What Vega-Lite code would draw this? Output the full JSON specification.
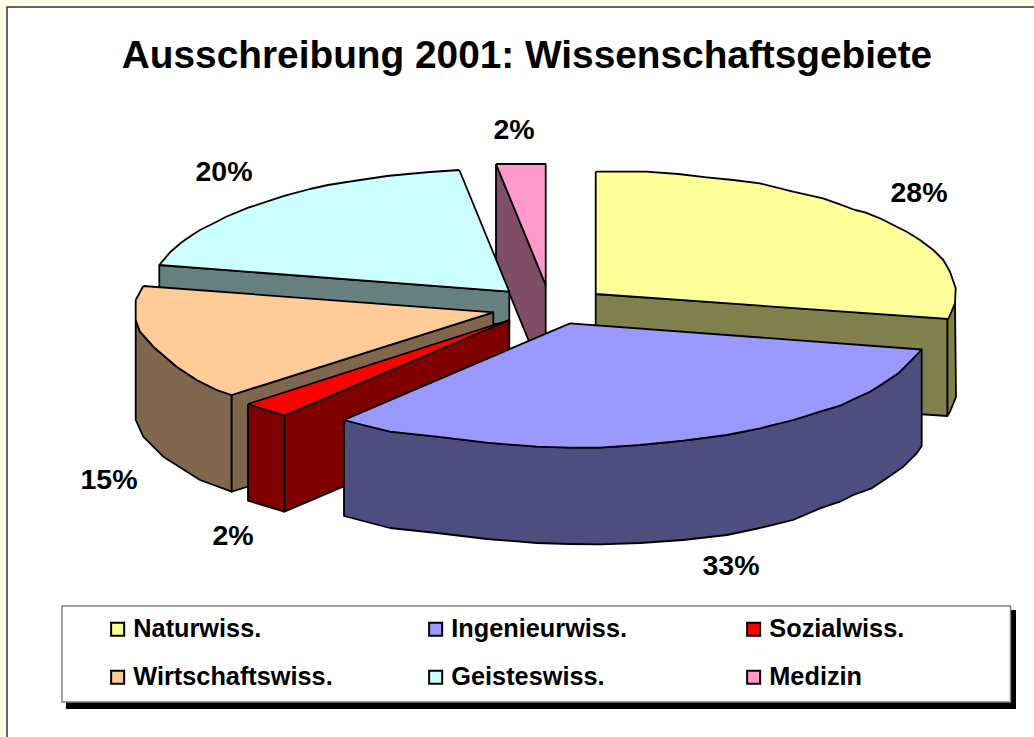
{
"$schema":"https://vega.github.io/schema/vega-lite/v6.json",
"width":1034,"height":737,"padding":0,"autosize":{"type":"none"},
"background":"#FFFFE6",
"title":{"text":"Ausschreibung 2001: Wissenschaftsgebiete","orient":"top","anchor":"middle","offset":-76,"dx":10,"font":"Liberation Sans","fontSize":38.8,"fontWeight":"bold","color":"#000000"},
"config":{"view":{"stroke":null}},
"datasets":{
"panels":[
{"teil":"Rahmen","x":7,"x2":1060,"y":7,"y2":760},
{"teil":"Legendenschatten","x":66,"x2":1016,"y":610,"y2":709},
{"teil":"Legende","x":62,"x2":1010.5,"y":606,"y2":702}
],
"labels":[
{"fach":"Naturwiss.","anteil":0.28,"x":919,"y":193},
{"fach":"Ingenieurwiss.","anteil":0.33,"x":731,"y":566},
{"fach":"Sozialwiss.","anteil":0.02,"x":233,"y":536},
{"fach":"Wirtschaftswiss.","anteil":0.15,"x":109,"y":480},
{"fach":"Geisteswiss.","anteil":0.20,"x":224,"y":172},
{"fach":"Medizin","anteil":0.02,"x":514,"y":130}
],
"faces":[
{"face":"Medizin Seite","n":1,"x":496,"y":164},{"face":"Medizin Seite","n":2,"x":545.7,"y":285},{"face":"Medizin Seite","n":3,"x":545.7,"y":382},{"face":"Medizin Seite","n":4,"x":496,"y":261},{"face":"Medizin Seite","n":5,"x":496,"y":164},
{"face":"Medizin","n":1,"x":496,"y":164},{"face":"Medizin","n":2,"x":545.7,"y":164},{"face":"Medizin","n":3,"x":545.7,"y":285},{"face":"Medizin","n":4,"x":496,"y":164},
{"face":"Geisteswiss. Seite","n":1,"x":159.3,"y":265},{"face":"Geisteswiss. Seite","n":2,"x":509.3,"y":291.7},{"face":"Geisteswiss. Seite","n":3,"x":509.3,"y":325},{"face":"Geisteswiss. Seite","n":4,"x":159.3,"y":300},{"face":"Geisteswiss. Seite","n":5,"x":159.3,"y":265},
{"face":"Geisteswiss.","n":1,"x":459.3,"y":170},{"face":"Geisteswiss.","n":2,"x":509.3,"y":291.7},{"face":"Geisteswiss.","n":3,"x":159.3,"y":265},{"face":"Geisteswiss.","n":4,"x":170,"y":252.3},{"face":"Geisteswiss.","n":5,"x":181.7,"y":242.3},{"face":"Geisteswiss.","n":6,"x":193.3,"y":234.3},{"face":"Geisteswiss.","n":7,"x":200,"y":230},{"face":"Geisteswiss.","n":8,"x":211.7,"y":224.3},{"face":"Geisteswiss.","n":9,"x":226.7,"y":216.5},{"face":"Geisteswiss.","n":10,"x":248.3,"y":207.7},{"face":"Geisteswiss.","n":11,"x":266.7,"y":201.7},{"face":"Geisteswiss.","n":12,"x":285,"y":195.7},{"face":"Geisteswiss.","n":13,"x":310,"y":189},{"face":"Geisteswiss.","n":14,"x":328,"y":185},{"face":"Geisteswiss.","n":15,"x":347,"y":182},{"face":"Geisteswiss.","n":16,"x":367,"y":179},{"face":"Geisteswiss.","n":17,"x":387,"y":176},{"face":"Geisteswiss.","n":18,"x":408,"y":174},{"face":"Geisteswiss.","n":19,"x":430,"y":172},{"face":"Geisteswiss.","n":20,"x":459.3,"y":170},
{"face":"Naturwiss. Rundung","n":1,"x":947.3,"y":318.3},{"face":"Naturwiss. Rundung","n":2,"x":955,"y":303.3},{"face":"Naturwiss. Rundung","n":3,"x":956,"y":397},{"face":"Naturwiss. Rundung","n":4,"x":950,"y":411.7},{"face":"Naturwiss. Rundung","n":5,"x":947.3,"y":416},{"face":"Naturwiss. Rundung","n":6,"x":947.3,"y":318.3},
{"face":"Naturwiss. Seite","n":1,"x":595.7,"y":294},{"face":"Naturwiss. Seite","n":2,"x":947.3,"y":318.3},{"face":"Naturwiss. Seite","n":3,"x":947.3,"y":416},{"face":"Naturwiss. Seite","n":4,"x":595.7,"y":392},{"face":"Naturwiss. Seite","n":5,"x":595.7,"y":294},
{"face":"Naturwiss.","n":1,"x":595.7,"y":171.7},{"face":"Naturwiss.","n":2,"x":646,"y":171.7},{"face":"Naturwiss.","n":3,"x":678.3,"y":174},{"face":"Naturwiss.","n":4,"x":706.7,"y":177.3},{"face":"Naturwiss.","n":5,"x":733,"y":180},{"face":"Naturwiss.","n":6,"x":760,"y":183.3},{"face":"Naturwiss.","n":7,"x":793,"y":191.7},{"face":"Naturwiss.","n":8,"x":823,"y":198.3},{"face":"Naturwiss.","n":9,"x":840,"y":204.3},{"face":"Naturwiss.","n":10,"x":855,"y":210},{"face":"Naturwiss.","n":11,"x":865,"y":212.3},{"face":"Naturwiss.","n":12,"x":880,"y":218.3},{"face":"Naturwiss.","n":13,"x":893.3,"y":225},{"face":"Naturwiss.","n":14,"x":906.7,"y":231.7},{"face":"Naturwiss.","n":15,"x":920,"y":240},{"face":"Naturwiss.","n":16,"x":933.3,"y":250},{"face":"Naturwiss.","n":17,"x":943.3,"y":260},{"face":"Naturwiss.","n":18,"x":950,"y":271.7},{"face":"Naturwiss.","n":19,"x":955.7,"y":288.3},{"face":"Naturwiss.","n":20,"x":955,"y":303.3},{"face":"Naturwiss.","n":21,"x":948.3,"y":319},{"face":"Naturwiss.","n":22,"x":595.7,"y":294},{"face":"Naturwiss.","n":23,"x":595.7,"y":171.7},
{"face":"Wirtschaftswiss. Rundung","n":1,"x":231.7,"y":395},{"face":"Wirtschaftswiss. Rundung","n":2,"x":216.7,"y":390},{"face":"Wirtschaftswiss. Rundung","n":3,"x":196.7,"y":380},{"face":"Wirtschaftswiss. Rundung","n":4,"x":176.7,"y":366.7},{"face":"Wirtschaftswiss. Rundung","n":5,"x":153.3,"y":346.7},{"face":"Wirtschaftswiss. Rundung","n":6,"x":140,"y":331.7},{"face":"Wirtschaftswiss. Rundung","n":7,"x":135.7,"y":320},{"face":"Wirtschaftswiss. Rundung","n":8,"x":135.7,"y":420},{"face":"Wirtschaftswiss. Rundung","n":9,"x":143.3,"y":436.7},{"face":"Wirtschaftswiss. Rundung","n":10,"x":163.3,"y":456.7},{"face":"Wirtschaftswiss. Rundung","n":11,"x":200,"y":480},{"face":"Wirtschaftswiss. Rundung","n":12,"x":231.7,"y":491.7},{"face":"Wirtschaftswiss. Rundung","n":13,"x":231.7,"y":395},
{"face":"Wirtschaftswiss. Seite","n":1,"x":231.7,"y":395},{"face":"Wirtschaftswiss. Seite","n":2,"x":493.3,"y":312.3},{"face":"Wirtschaftswiss. Seite","n":3,"x":493.3,"y":410},{"face":"Wirtschaftswiss. Seite","n":4,"x":231.7,"y":491.7},{"face":"Wirtschaftswiss. Seite","n":5,"x":231.7,"y":395},
{"face":"Wirtschaftswiss.","n":1,"x":143.3,"y":286},{"face":"Wirtschaftswiss.","n":2,"x":493.3,"y":312.3},{"face":"Wirtschaftswiss.","n":3,"x":231.7,"y":395},{"face":"Wirtschaftswiss.","n":4,"x":216.7,"y":390},{"face":"Wirtschaftswiss.","n":5,"x":196.7,"y":380},{"face":"Wirtschaftswiss.","n":6,"x":176.7,"y":366.7},{"face":"Wirtschaftswiss.","n":7,"x":153.3,"y":346.7},{"face":"Wirtschaftswiss.","n":8,"x":140,"y":331.7},{"face":"Wirtschaftswiss.","n":9,"x":135.7,"y":320},{"face":"Wirtschaftswiss.","n":10,"x":135.7,"y":300},{"face":"Wirtschaftswiss.","n":11,"x":143.3,"y":286},
{"face":"Sozialwiss. Seite","n":1,"x":509.3,"y":320},{"face":"Sozialwiss. Seite","n":2,"x":284.3,"y":415.7},{"face":"Sozialwiss. Seite","n":3,"x":284.3,"y":511.7},{"face":"Sozialwiss. Seite","n":4,"x":509.3,"y":416},{"face":"Sozialwiss. Seite","n":5,"x":509.3,"y":320},
{"face":"Sozialwiss. Stirn","n":1,"x":248,"y":404},{"face":"Sozialwiss. Stirn","n":2,"x":284.3,"y":415.7},{"face":"Sozialwiss. Stirn","n":3,"x":284.3,"y":511.7},{"face":"Sozialwiss. Stirn","n":4,"x":248,"y":500.7},{"face":"Sozialwiss. Stirn","n":5,"x":248,"y":404},
{"face":"Sozialwiss.","n":1,"x":248,"y":404},{"face":"Sozialwiss.","n":2,"x":284.3,"y":415.7},{"face":"Sozialwiss.","n":3,"x":509.3,"y":320},{"face":"Sozialwiss.","n":4,"x":248,"y":404},
{"face":"Ingenieurwiss. Seite","n":1,"x":921.7,"y":349.5},{"face":"Ingenieurwiss. Seite","n":2,"x":910,"y":361.7},{"face":"Ingenieurwiss. Seite","n":3,"x":898.3,"y":373.3},{"face":"Ingenieurwiss. Seite","n":4,"x":883.3,"y":383.3},{"face":"Ingenieurwiss. Seite","n":5,"x":870,"y":391.7},{"face":"Ingenieurwiss. Seite","n":6,"x":853.3,"y":399.3},{"face":"Ingenieurwiss. Seite","n":7,"x":840,"y":405.7},{"face":"Ingenieurwiss. Seite","n":8,"x":820,"y":411.7},{"face":"Ingenieurwiss. Seite","n":9,"x":793.3,"y":420},{"face":"Ingenieurwiss. Seite","n":10,"x":760,"y":428.3},{"face":"Ingenieurwiss. Seite","n":11,"x":726.7,"y":435},{"face":"Ingenieurwiss. Seite","n":12,"x":683.3,"y":440.7},{"face":"Ingenieurwiss. Seite","n":13,"x":640,"y":445},{"face":"Ingenieurwiss. Seite","n":14,"x":600,"y":447.7},{"face":"Ingenieurwiss. Seite","n":15,"x":570,"y":447.7},{"face":"Ingenieurwiss. Seite","n":16,"x":536.7,"y":446.7},{"face":"Ingenieurwiss. Seite","n":17,"x":486.7,"y":442.7},{"face":"Ingenieurwiss. Seite","n":18,"x":436.7,"y":436.7},{"face":"Ingenieurwiss. Seite","n":19,"x":390,"y":431.7},{"face":"Ingenieurwiss. Seite","n":20,"x":363.3,"y":425},{"face":"Ingenieurwiss. Seite","n":21,"x":344,"y":420},{"face":"Ingenieurwiss. Seite","n":22,"x":344,"y":516},{"face":"Ingenieurwiss. Seite","n":23,"x":363,"y":521},{"face":"Ingenieurwiss. Seite","n":24,"x":390,"y":528},{"face":"Ingenieurwiss. Seite","n":25,"x":437,"y":533},{"face":"Ingenieurwiss. Seite","n":26,"x":487,"y":539},{"face":"Ingenieurwiss. Seite","n":27,"x":537,"y":543},{"face":"Ingenieurwiss. Seite","n":28,"x":570,"y":544},{"face":"Ingenieurwiss. Seite","n":29,"x":600,"y":544.3},{"face":"Ingenieurwiss. Seite","n":30,"x":640,"y":543},{"face":"Ingenieurwiss. Seite","n":31,"x":683,"y":540},{"face":"Ingenieurwiss. Seite","n":32,"x":727,"y":535},{"face":"Ingenieurwiss. Seite","n":33,"x":760,"y":528},{"face":"Ingenieurwiss. Seite","n":34,"x":793,"y":520},{"face":"Ingenieurwiss. Seite","n":35,"x":820,"y":508.3},{"face":"Ingenieurwiss. Seite","n":36,"x":840,"y":501.7},{"face":"Ingenieurwiss. Seite","n":37,"x":853.3,"y":495},{"face":"Ingenieurwiss. Seite","n":38,"x":871.7,"y":488.3},{"face":"Ingenieurwiss. Seite","n":39,"x":886.7,"y":478.3},{"face":"Ingenieurwiss. Seite","n":40,"x":903.3,"y":466.7},{"face":"Ingenieurwiss. Seite","n":41,"x":916.7,"y":453.3},{"face":"Ingenieurwiss. Seite","n":42,"x":921.7,"y":446},{"face":"Ingenieurwiss. Seite","n":43,"x":921.7,"y":349.5},
{"face":"Ingenieurwiss.","n":1,"x":570,"y":323.3},{"face":"Ingenieurwiss.","n":2,"x":921.7,"y":349.5},{"face":"Ingenieurwiss.","n":3,"x":910,"y":361.7},{"face":"Ingenieurwiss.","n":4,"x":898.3,"y":373.3},{"face":"Ingenieurwiss.","n":5,"x":883.3,"y":383.3},{"face":"Ingenieurwiss.","n":6,"x":870,"y":391.7},{"face":"Ingenieurwiss.","n":7,"x":853.3,"y":399.3},{"face":"Ingenieurwiss.","n":8,"x":840,"y":405.7},{"face":"Ingenieurwiss.","n":9,"x":820,"y":411.7},{"face":"Ingenieurwiss.","n":10,"x":793.3,"y":420},{"face":"Ingenieurwiss.","n":11,"x":760,"y":428.3},{"face":"Ingenieurwiss.","n":12,"x":726.7,"y":435},{"face":"Ingenieurwiss.","n":13,"x":683.3,"y":440.7},{"face":"Ingenieurwiss.","n":14,"x":640,"y":445},{"face":"Ingenieurwiss.","n":15,"x":600,"y":447.7},{"face":"Ingenieurwiss.","n":16,"x":570,"y":447.7},{"face":"Ingenieurwiss.","n":17,"x":536.7,"y":446.7},{"face":"Ingenieurwiss.","n":18,"x":486.7,"y":442.7},{"face":"Ingenieurwiss.","n":19,"x":436.7,"y":436.7},{"face":"Ingenieurwiss.","n":20,"x":390,"y":431.7},{"face":"Ingenieurwiss.","n":21,"x":363.3,"y":425},{"face":"Ingenieurwiss.","n":22,"x":344,"y":420},{"face":"Ingenieurwiss.","n":23,"x":570,"y":323.3}
]},
"layer":[
{"data":{"name":"panels"},"transform":[{"filter":"datum.teil==='Rahmen'"}],
 "mark":{"type":"rect","fill":"#FFFFFF","stroke":"#333333","strokeWidth":1.5,"clip":false},
 "encoding":{"x":{"field":"x","type":"quantitative","scale":{"domain":[0,1034],"nice":false,"zero":false},"axis":null},"x2":{"field":"x2"},"y":{"field":"y","type":"quantitative","scale":{"domain":[737,0],"nice":false,"zero":false},"axis":null},"y2":{"field":"y2"}}},
{"data":{"name":"faces"},
 "mark":{"type":"line","stroke":"#000000","strokeWidth":1.8,"strokeJoin":"round"},
 "encoding":{
  "x":{"field":"x","type":"quantitative","axis":null},
  "y":{"field":"y","type":"quantitative","axis":null},
  "order":{"field":"n","type":"quantitative"},
  "fill":{"field":"face","type":"nominal",
   "scale":{"domain":["Naturwiss.","Ingenieurwiss.","Sozialwiss.","Wirtschaftswiss.","Geisteswiss.","Medizin","Naturwiss. Seite","Naturwiss. Rundung","Ingenieurwiss. Seite","Sozialwiss. Seite","Sozialwiss. Stirn","Wirtschaftswiss. Seite","Wirtschaftswiss. Rundung","Geisteswiss. Seite","Medizin Seite"],
    "range":["#FFFF99","#9999FF","#FF0000","#FFCC99","#CCFFFF","#FF99CC","#80804D","#80804D","#4D4D80","#800000","#800000","#80664D","#80664D","#668080","#804D66"]},
   "legend":{"values":["Naturwiss.","Wirtschaftswiss.","Ingenieurwiss.","Geisteswiss.","Sozialwiss.","Medizin"],"title":null,"orient":"none","legendX":105,"legendY":616.5,"columns":3,"gridAlign":"all","columnPadding":90,"rowPadding":22,"symbolType":"square","symbolSize":170,"symbolStrokeColor":"#000000","symbolStrokeWidth":2,"labelFont":"Liberation Sans","labelFontSize":25.3,"labelFontWeight":"bold","labelColor":"#000000","labelOffset":3,"labelLimit":300,"padding":0}}
 }},
{"data":{"name":"panels"},"transform":[{"filter":"datum.teil==='Legendenschatten'"}],
 "mark":{"type":"rect","fill":"#000000"},
 "encoding":{"x":{"field":"x","type":"quantitative"},"x2":{"field":"x2"},"y":{"field":"y","type":"quantitative"},"y2":{"field":"y2"}}},
{"data":{"name":"panels"},"transform":[{"filter":"datum.teil==='Legende'"}],
 "mark":{"type":"rect","fill":"#FFFFFF","stroke":"#808080","strokeWidth":1.5},
 "encoding":{"x":{"field":"x","type":"quantitative"},"x2":{"field":"x2"},"y":{"field":"y","type":"quantitative"},"y2":{"field":"y2"}}},
{"data":{"name":"labels"},
 "mark":{"type":"text","font":"Liberation Sans","fontSize":28.5,"fontWeight":"bold","color":"#000000","align":"center","baseline":"middle"},
 "encoding":{"x":{"field":"x","type":"quantitative"},"y":{"field":"y","type":"quantitative"},"text":{"field":"anteil","type":"quantitative","format":".0%"}}}
]
}
